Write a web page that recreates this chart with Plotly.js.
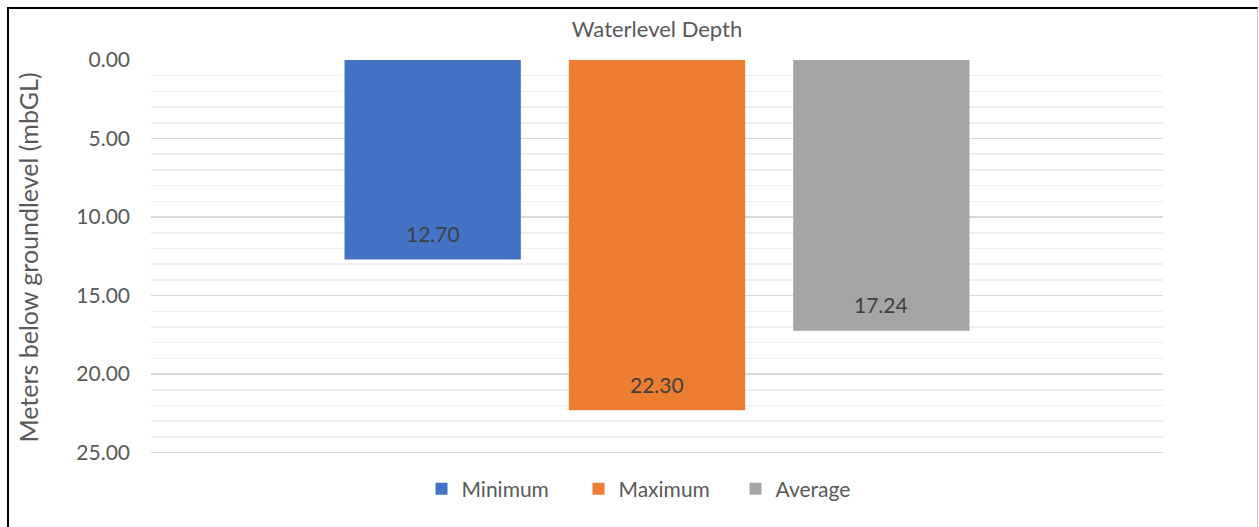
<!DOCTYPE html>
<html>
<head>
<meta charset="utf-8">
<script src="https://cdn.plot.ly/plotly-3.0.1.min.js"></script>
<style>
html,body{margin:0;padding:0;background:#fff;}
#wrap{position:relative;width:1259px;height:527px;overflow:hidden;}
#chart{width:1259px;height:527px;}
#frame{position:absolute;left:7px;top:7px;width:1248px;height:540px;border-left:2px solid #000;border-top:2px solid #000;border-right:1px solid #c8c8c8;pointer-events:none;}
</style>
</head>
<body>
<div id="wrap"><div id="chart"></div><div id="frame"></div></div>
<script>
const category = ["Waterlevel Depth"];
const seriesNames = ["Minimum", "Maximum", "Average"];
const minimumValues = [12.70];
const maximumValues = [22.30];
const averageValues = [17.24];
const colors = ["#4472C4", "#ED7D31", "#A5A5A5"];
const yTickValues = [0, 5, 10, 15, 20, 25];

const allValues = [minimumValues, maximumValues, averageValues];
const FONT = "Lato, 'Open Sans', sans-serif";

const traces = allValues.map((vals, i) => ({
  type: "bar",
  name: seriesNames[i],
  x: category,
  y: vals,
  marker: {color: colors[i]},
  hoverinfo: "skip"
}));

// data labels placed at each bar's end (inside end), offset per series slot
const slotShift = [-224.3, 0, 224.3];
const annotations = [];
allValues.forEach((vals, i) => {
  vals.forEach((v, j) => {
    annotations.push({
      x: category[j], y: v, xref: "x", yref: "y",
      text: v.toFixed(2),
      showarrow: false,
      xshift: slotShift[i],
      yshift: 26,
      yanchor: "middle",
      font: {family: FONT, size: 21, color: "#404040"}
    });
  });
});

const layout = {
  width: 1259,
  height: 527,
  margin: {l: 151, r: 96, t: 60, b: 72},
  paper_bgcolor: "#fff",
  plot_bgcolor: "#fff",
  font: {family: FONT, color: "#595959"},
  title: {
    text: "Waterlevel Depth",
    font: {family: FONT, size: 22, color: "#595959"},
    x: 0.5, xref: "paper",
    y: 1 - 29/527, yref: "container", yanchor: "middle"
  },
  barmode: "group",
  bargap: 0.335,
  bargroupgap: 0.214,
  xaxis: {
    showticklabels: false,
    showgrid: false,
    zeroline: false,
    showline: false,
    fixedrange: true
  },
  yaxis: {
    range: [25.15, 0],
    tickvals: yTickValues,
    tickformat: ".2f",
    tickfont: {family: FONT, size: 21, color: "#595959"},
    showgrid: true,
    gridcolor: "#d9d9d9",
    gridwidth: 1.5,
    zeroline: false,
    showline: false,
    ticks: "",
    ticklabelstandoff: 20,
    minor: {dtick: 1, showgrid: true, gridcolor: "#efefef", gridwidth: 1.5},
    title: {
      text: "Meters below groundlevel (mbGL)",
      font: {family: FONT, size: 25, color: "#595959"},
      standoff: 30
    },
    automargin: false
  },
  annotations: annotations,
  showlegend: true,
  legend: {
    orientation: "h",
    x: 0.5, xanchor: "center",
    y: -(487 - 453) / 395, yanchor: "middle",
    font: {family: FONT, size: 21, color: "#595959"},
    entrywidth: 112,
    traceorder: "normal"
  }
};

Plotly.newPlot("chart", traces, layout, {displayModeBar: false, staticPlot: true});
</script>
</body>
</html>
